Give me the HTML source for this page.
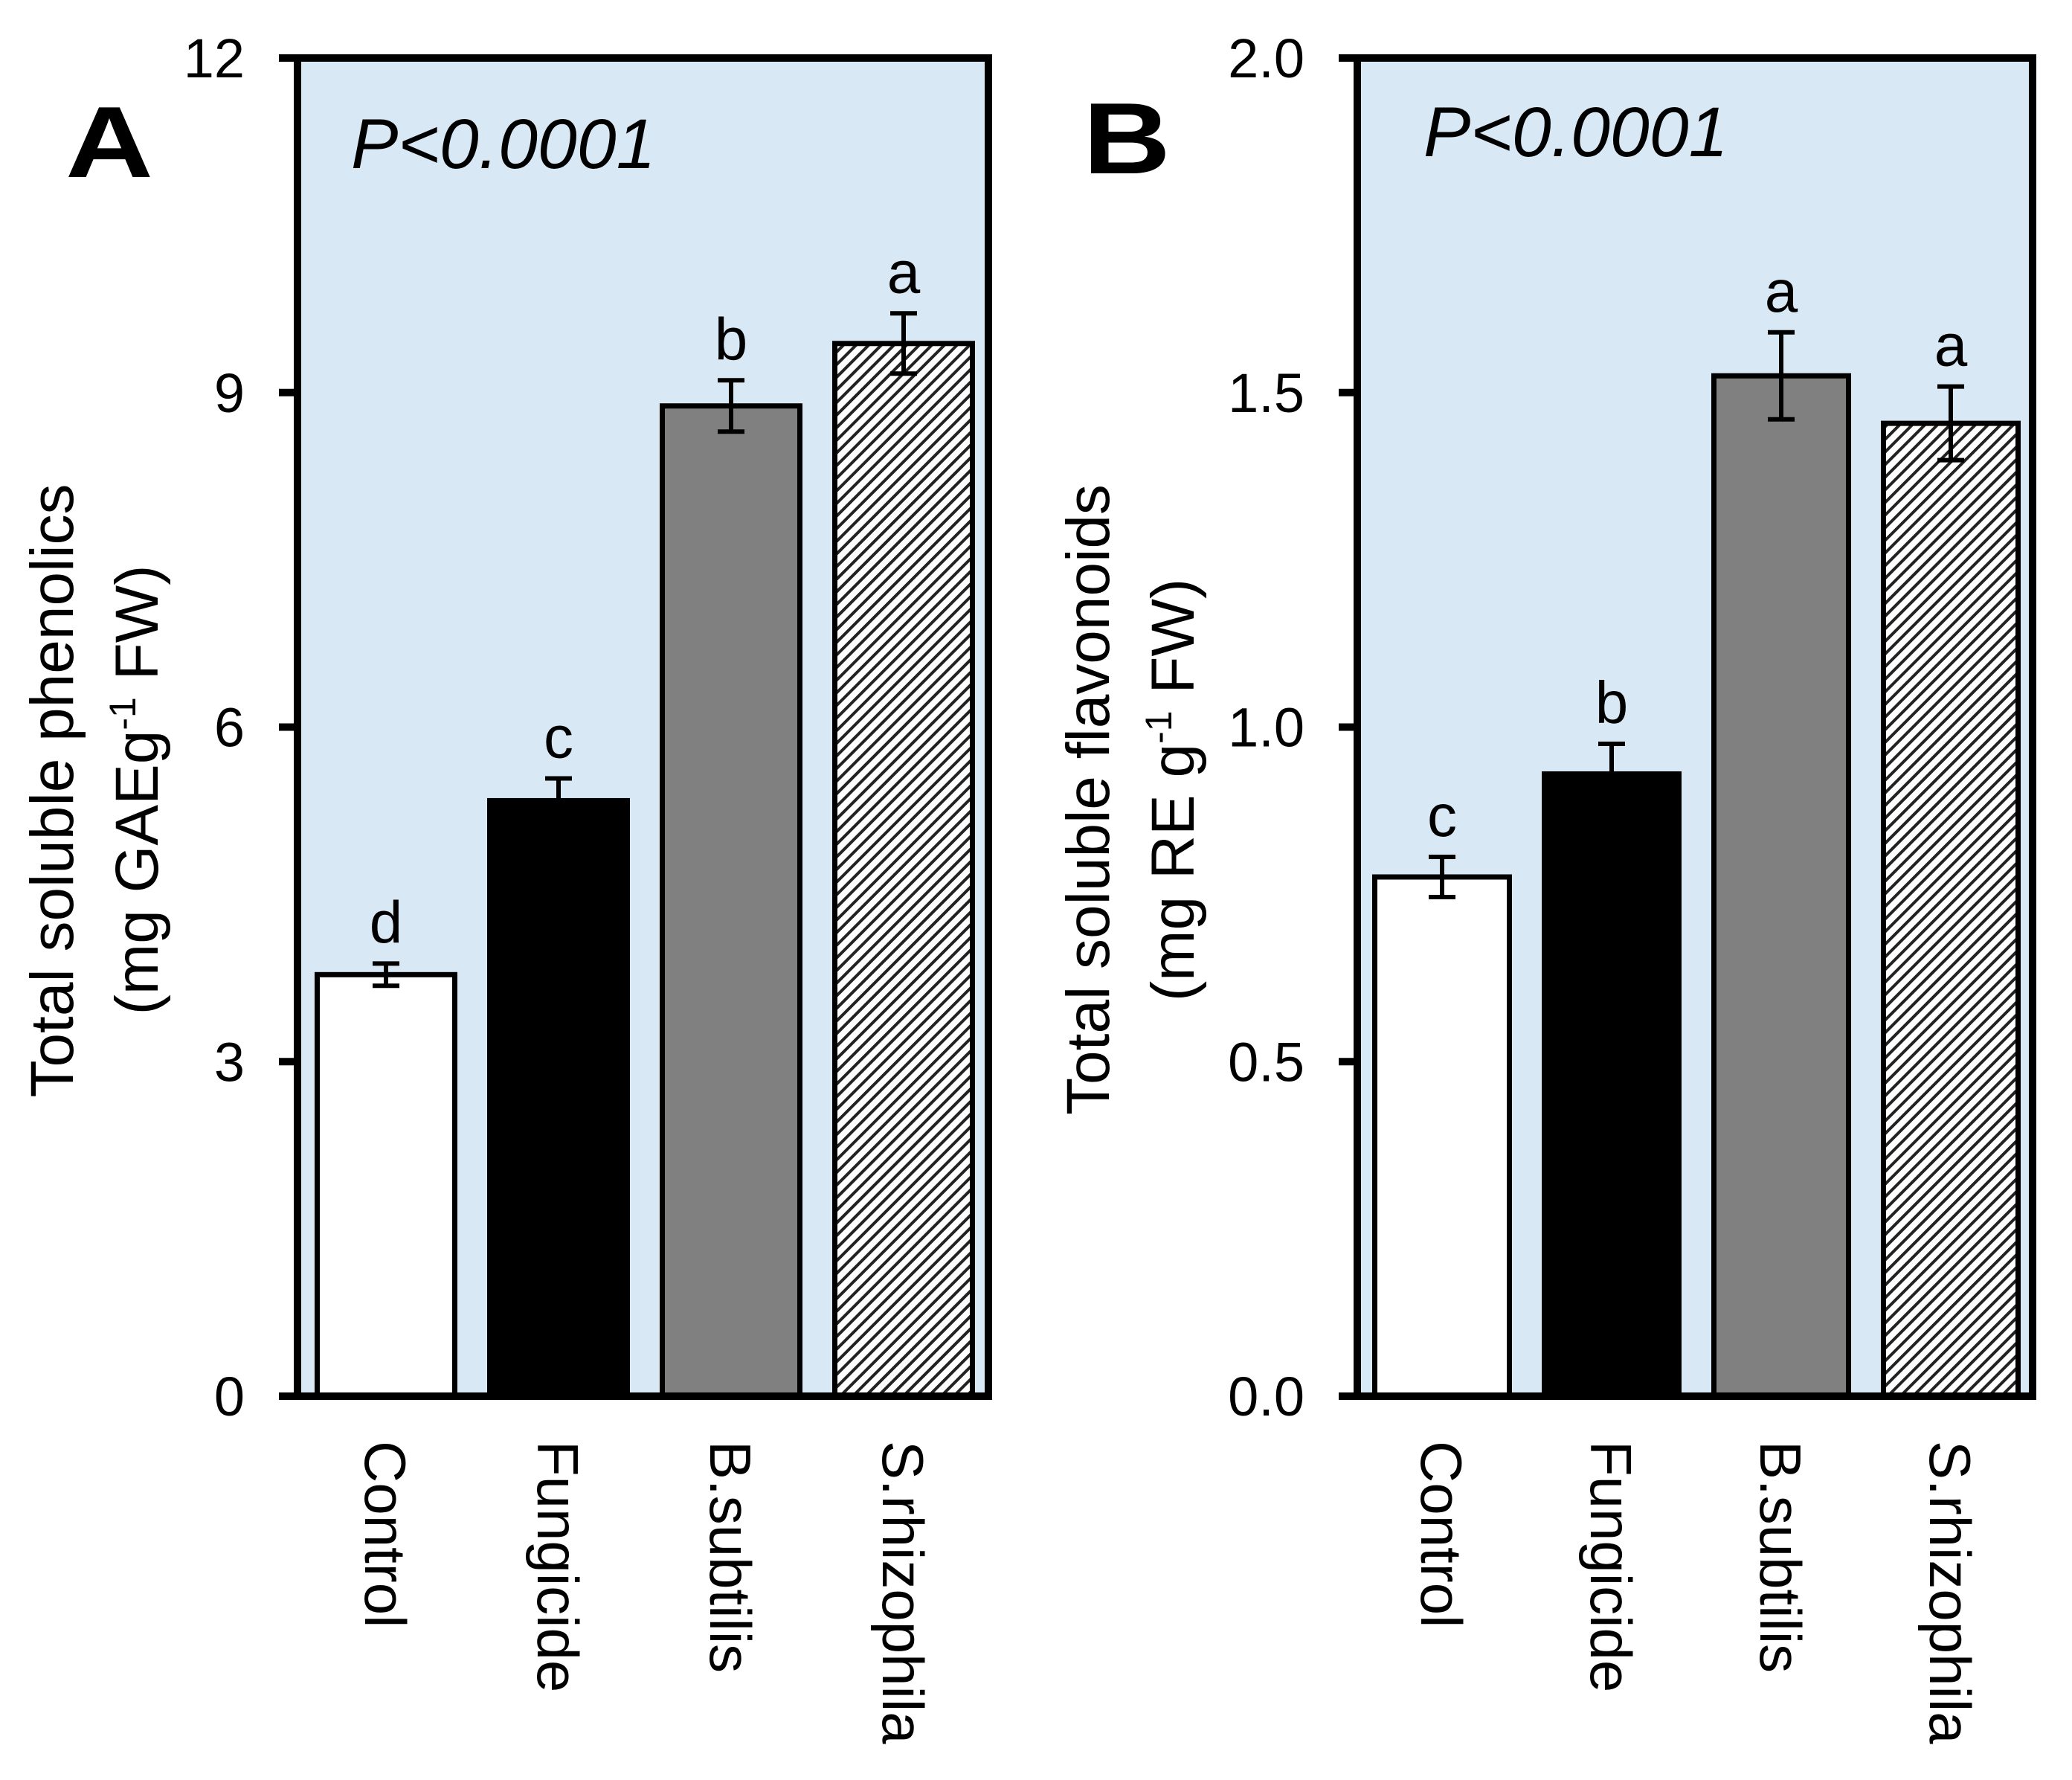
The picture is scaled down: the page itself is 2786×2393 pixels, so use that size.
<!DOCTYPE html>
<html><head><meta charset="utf-8"><style>
html,body{margin:0;padding:0;background:#fff}
svg{display:block}
text{font-family:"Liberation Sans",Arial,sans-serif;fill:#000}
</style></head><body>
<svg id="chart" width="2786" height="2393" viewBox="0 0 2786 2393" xmlns="http://www.w3.org/2000/svg">
<defs>
<pattern id="hatch" patternUnits="userSpaceOnUse" width="12" height="12" patternTransform="rotate(45)">
<rect width="12" height="12" fill="#fff"/>
<rect x="0" y="0" width="4" height="12" fill="#222"/>
</pattern>
</defs>
<g id="root"></g>
</svg>
<script>
const categories = ["Control", "Fungicide", "B.subtilis", "S.rhizophila"];
const phenolicsValues = [3.78, 5.34, 8.88, 9.44];
const phenolicsErrors = [0.10, 0.20, 0.23, 0.27];
const phenolicsLetters = ["d", "c", "b", "a"];
const phenolicsTicks = [0, 3, 6, 9, 12];
const phenolicsTickLabels = ["0", "3", "6", "9", "12"];
const flavonoidsValues = [0.776, 0.93, 1.525, 1.454];
const flavonoidsErrors = [0.03, 0.045, 0.065, 0.055];
const flavonoidsLetters = ["c", "b", "a", "a"];
const flavonoidsTicks = [0, 0.5, 1.0, 1.5, 2.0];
const flavonoidsTickLabels = ["0.0", "0.5", "1.0", "1.5", "2.0"];
const fills = ["#fff", "#000", "#808080", "url(#hatch)"];

const NS = "http://www.w3.org/2000/svg";
const root = document.getElementById("root");
function mk(tag, attrs, parent) {
  const e = document.createElementNS(NS, tag);
  for (const k in attrs) e.setAttribute(k, attrs[k]);
  (parent || root).appendChild(e);
  return e;
}

function panel(cfg) {
  const g = mk("g", {});
  
  
  const top = 78, bottom = 1877;
  const y = v => bottom - (v / cfg.max) * (bottom - top);
  const bg = mk("rect", {x: cfg.L, y: top, width: cfg.R - cfg.L, height: bottom - top, fill: "#d9e8f5"}, g);
  
  
  cfg.values.forEach((v, i) => {
    const x0 = cfg.start + i * cfg.pitch;
    const cx = x0 + cfg.bw / 2;
    const b = mk("rect", {x: x0 + 3.5, y: y(v), width: cfg.bw - 7, height: bottom - y(v), fill: fills[i], stroke: "#000", "stroke-width": 7}, g);
    
    
    const e = cfg.errors[i];
    const eg = mk("g", {stroke: "#000", "stroke-width": 6}, g);
    
    
    mk("line", {x1: cx, x2: cx, y1: y(v + e), y2: y(v - e)}, eg);
    mk("line", {x1: cx - 18, x2: cx + 18, y1: y(v + e), y2: y(v + e)}, eg);
    mk("line", {x1: cx - 18, x2: cx + 18, y1: y(v - e), y2: y(v - e)}, eg);
    const t = mk("text", {x: cx, y: y(v + e) - 28, "font-size": 80, "text-anchor": "middle"}, g);
    t.textContent = cfg.letters[i];
    
    
    const c = mk("text", {x: 0, y: 0, "font-size": 78, transform: `translate(${cx - 28},1937) rotate(90)`}, g);
    c.textContent = categories[i];
    
    
  });
  const fr = mk("rect", {x: cfg.L, y: top, width: cfg.R - cfg.L, height: bottom - top, fill: "none", stroke: "#000", "stroke-width": 10}, g);
  
  
  cfg.ticks.forEach((tv, i) => {
    const tk = mk("line", {x1: cfg.L - 25, x2: cfg.L, y1: y(tv), y2: y(tv), stroke: "#000", "stroke-width": 10}, g);
    
    
    const tl = mk("text", {x: cfg.L - 71, y: y(tv) + 26, "font-size": 74, "text-anchor": "end"}, g);
    tl.textContent = cfg.tickLabels[i];
    
    
  });
  const t1 = mk("text", {x: 0, y: 0, "font-size": 82, "text-anchor": "middle", transform: `translate(${cfg.t1x},${cfg.t1y}) rotate(-90)`}, g);
  t1.textContent = cfg.title1;
  
  
  const t2 = mk("text", {x: 0, y: 0, "font-size": 82, "text-anchor": "middle", transform: `translate(${cfg.t2x},1062) rotate(-90)`}, g);
  t2.innerHTML = cfg.title2a + '<tspan font-size="50" dy="-30">-1</tspan><tspan dy="30"> FW)</tspan>';
  
  
  const pl = mk("text", {x: cfg.pl, y: cfg.plb, "font-size": 136, "font-weight": "bold", textLength: 118, lengthAdjust: "spacingAndGlyphs"}, g);
  pl.textContent = cfg.letter;
  
  
  const p = mk("text", {x: cfg.px, y: cfg.pb, "font-size": 95, "font-style": "italic"}, g);
  p.textContent = "P<0.0001";
  
  
}

panel({name: "panel-a-phenolics", L: 400, R: 1329, max: 12, start: 423, pitch: 232, bw: 192,
  values: phenolicsValues, errors: phenolicsErrors, letters: phenolicsLetters,
  ticks: phenolicsTicks, tickLabels: phenolicsTickLabels,
  title1: "Total soluble phenolics", t1x: 98, t1y: 1063, title2a: "(mg GAEg", t2x: 212,
  letter: "A", pl: 88, plb: 238, px: 472, pb: 226});
panel({name: "panel-b-flavonoids", L: 1825, R: 2733, max: 2, start: 1845, pitch: 228, bw: 188,
  values: flavonoidsValues, errors: flavonoidsErrors, letters: flavonoidsLetters,
  ticks: flavonoidsTicks, tickLabels: flavonoidsTickLabels,
  title1: "Total soluble flavonoids", t1x: 1491, t1y: 1075, title2a: "(mg RE g", t2x: 1605,
  letter: "B", pl: 1456, plb: 233, px: 1914, pb: 210});
</script>
</body></html>
